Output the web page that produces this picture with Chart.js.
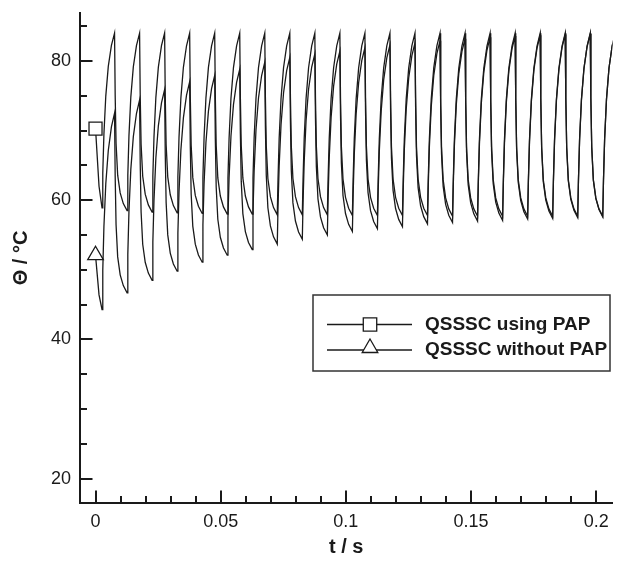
<!DOCTYPE html>
<html>
<head>
<meta charset="utf-8">
<title>QSSSC - temperatura</title>
<script src="https://cdn.jsdelivr.net/npm/chart.js@4.4.0/dist/chart.umd.min.js"></script>
<style>
  html, body { margin: 0; padding: 0; background: #fff; }
  #wrap { width: 623px; height: 564px; }
</style>
</head>
<body>
<div id="wrap"><canvas id="tempChart" width="623" height="564"></canvas></div>
<script>
// Datos (t en s, temperatura en °C)
const seriesNames = ['QSSSC using PAP', 'QSSSC without PAP'];

const startTimes = [0, 0.0014];
const minTimes = [0.0026, 0.0126, 0.0226, 0.0326, 0.0426, 0.0526, 0.0626, 0.0726, 0.0826, 0.0926, 0.1026,
                  0.1126, 0.1226, 0.1326, 0.1426, 0.1526, 0.1626, 0.1726, 0.1826, 0.1926, 0.2026];
const peakTimes = [0.0076, 0.0176, 0.0276, 0.0376, 0.0476, 0.0576, 0.0676, 0.0776, 0.0876, 0.0976, 0.1076,
                   0.1176, 0.1276, 0.1376, 0.1476, 0.1576, 0.1676, 0.1776, 0.1876, 0.1976, 0.2076];

const papStart = [70.3, 62.0];
const papMin = [58.9, 58.5, 58.3, 58.2, 58.1, 58.0, 58.0, 57.9, 57.9, 57.9, 57.8,
                57.8, 57.8, 57.8, 57.7, 57.7, 57.7, 57.7, 57.7, 57.7, 57.7];
const papPeak = [84.0, 84.0, 84.0, 84.0, 84.0, 84.0, 84.0, 84.0, 84.0, 84.0, 84.0,
                 84.0, 84.0, 84.0, 84.0, 84.0, 84.0, 84.0, 84.0, 84.0, 84.0];

const noPapStart = [52.1, 46.4];
const noPapMin = [44.3, 46.7, 48.5, 49.8, 51.1, 52.1, 52.9, 53.7, 54.4, 55.0, 55.5,
                  55.9, 56.2, 56.6, 56.8, 57.0, 57.1, 57.3, 57.4, 57.5, 57.6];
const noPapPeak = [72.5, 74.4, 75.9, 77.0, 77.9, 78.8, 79.8, 80.5, 81.0, 81.4, 81.9,
                   82.3, 82.6, 82.9, 83.2, 83.4, 83.6, 83.7, 83.8, 83.9, 84.0];

const riseTime = [0, 0.06, 0.15, 0.3, 0.5, 0.75, 1];
const riseLevel = [0, 0.2, 0.42, 0.64, 0.81, 0.93, 1];
const fallTime = [0, 0.05, 0.12, 0.25, 0.45, 0.7, 1];
const fallLevel = [0, 0.35, 0.62, 0.8, 0.9, 0.96, 1];

// Ejes
const xTicks = [0, 0.05, 0.1, 0.15, 0.2];
const xTickLabels = ['0', '0.05', '0.1', '0.15', '0.2'];
const yTicks = [20, 40, 60, 80];
const yTickLabels = ['20', '40', '60', '80'];

const FONT = '"Liberation Sans", Arial, Helvetica, sans-serif';
const INK = '#1a1a1a';

// arma la lista de puntos {x, y} a partir de los extremos de cada ciclo
function buildSeries(start, mins, peaks) {
    const pts = startTimes.map((t, i) => ({ x: t, y: start[i] }));
    for (let k = 0; k < mins.length; k++) {
        const t0 = minTimes[k];
        const t1 = peakTimes[k];
        for (let j = 0; j < riseTime.length; j++) {
            pts.push({ x: t0 + (t1 - t0) * riseTime[j], y: mins[k] + (peaks[k] - mins[k]) * riseLevel[j] });
        }
        if (k + 1 < mins.length) {
            const t2 = minTimes[k + 1];
            for (let j = 1; j < fallTime.length - 1; j++) {
                pts.push({ x: t1 + (t2 - t1) * fallTime[j], y: peaks[k] - (peaks[k] - mins[k + 1]) * fallLevel[j] });
            }
        }
    }
    return pts;
}

// ticks hacia adentro + leyenda con recuadro
const ejesPlugin = {
    id: 'ejes',
    afterDraw(chart) {
        const ctx = chart.ctx;
        const area = chart.chartArea;
        const sx = chart.scales.x;
        const sy = chart.scales.y;
        ctx.save();
        ctx.strokeStyle = INK;
        ctx.lineWidth = 2;
        ctx.beginPath();
        for (let i = 0; i <= 20; i++) {
            const v = i / 100;
            const px = Math.round(sx.getPixelForValue(v));
            const len = (i % 5 === 0) ? 12.5 : 7;
            ctx.moveTo(px, area.bottom);
            ctx.lineTo(px, area.bottom - len);
        }
        for (let v = 20; v <= 85; v += 5) {
            const py = Math.round(sy.getPixelForValue(v));
            const len = (v % 20 === 0) ? 12.5 : 7;
            ctx.moveTo(area.left, py);
            ctx.lineTo(area.left + len, py);
        }
        ctx.stroke();

        // leyenda
        const bx = 313, by = 295, bw = 297, bh = 76;
        ctx.fillStyle = '#fff';
        ctx.fillRect(bx, by, bw, bh);
        ctx.lineWidth = 1.5;
        ctx.strokeStyle = '#333';
        ctx.strokeRect(bx, by, bw, bh);

        const rows = [324.5, 350];
        chart.data.datasets.forEach((ds, i) => {
            const y = rows[i];
            ctx.strokeStyle = INK;
            ctx.lineWidth = 1.3;
            ctx.beginPath();
            ctx.moveTo(327, y);
            ctx.lineTo(412, y);
            ctx.stroke();
            ctx.fillStyle = '#fff';
            Chart.helpers.drawPoint(ctx, {
                pointStyle: ds.pointStyle,
                radius: ds.legendRadius,
                rotation: 0,
                borderWidth: 1.3
            }, 370, i === 1 ? y - 2 : y);
            ctx.fillStyle = INK;
            ctx.font = 'bold 19px ' + FONT;
            ctx.textBaseline = 'middle';
            ctx.textAlign = 'left';
            ctx.fillText(ds.label, 425, y);
        });
        ctx.restore();
    }
};

document.addEventListener('DOMContentLoaded', function() {
    const canvas = document.getElementById('tempChart');
    if (!canvas) {
        console.error('No se encontró tempChart');
        return;
    }

    new Chart(canvas, {
        type: 'line',
        data: {
            datasets: [
                {
                    label: seriesNames[0],
                    data: buildSeries(papStart, papMin, papPeak),
                    borderColor: INK,
                    borderWidth: 1.3,
                    pointStyle: 'rect',
                    legendRadius: 9.5,
                    pointRadius: ctx => ctx.dataIndex === 0 ? 9.2 : 0,
                    pointBackgroundColor: '#fff',
                    pointBorderColor: INK,
                    pointBorderWidth: 1.3,
                    tension: 0,
                    fill: false
                },
                {
                    label: seriesNames[1],
                    data: buildSeries(noPapStart, noPapMin, noPapPeak),
                    borderColor: INK,
                    borderWidth: 1.3,
                    pointStyle: 'triangle',
                    legendRadius: 9,
                    pointRadius: ctx => ctx.dataIndex === 0 ? 9 : 0,
                    pointBackgroundColor: '#fff',
                    pointBorderColor: INK,
                    pointBorderWidth: 1.3,
                    tension: 0,
                    fill: false
                }
            ]
        },
        options: {
            responsive: false,
            animation: false,
            layout: { padding: { top: 13, right: 7, left: 0, bottom: 0 } },
            plugins: {
                legend: { display: false },
                tooltip: { enabled: false }
            },
            scales: {
                x: {
                    type: 'linear',
                    min: -0.0062,
                    max: 0.2065,
                    afterBuildTicks: s => { s.ticks = xTicks.map(v => ({ value: v })); },
                    afterFit: s => {
                        s.height = 61;
                        s.paddingLeft = 0;
                        s.paddingRight = 0;
                    },
                    ticks: {
                        callback: (v, i) => xTickLabels[i],
                        font: { size: 18, family: FONT },
                        color: INK,
                        padding: 8,
                        maxRotation: 0,
                        autoSkip: false
                    },
                    grid: { display: false, drawTicks: false },
                    border: { display: true, color: INK, width: 2 },
                    title: {
                        display: true,
                        text: 't / s',
                        color: INK,
                        font: { size: 20, weight: 'bold', family: FONT },
                        padding: { top: 5, bottom: 5 }
                    }
                },
                y: {
                    min: 16.5,
                    max: 86.9,
                    afterBuildTicks: s => { s.ticks = yTicks.map(v => ({ value: v })); },
                    afterFit: s => {
                        s.width = 80;
                        s.paddingTop = 0;
                        s.paddingBottom = 0;
                    },
                    ticks: {
                        callback: (v, i) => yTickLabels[i],
                        font: { size: 18, family: FONT },
                        color: INK,
                        padding: 9
                    },
                    grid: { display: false, drawTicks: false },
                    border: { display: true, color: INK, width: 2 },
                    title: {
                        display: true,
                        text: 'Θ / °C',
                        color: INK,
                        font: { size: 20, weight: 'bold', family: FONT },
                        padding: { top: 9, bottom: 9 }
                    }
                }
            }
        },
        plugins: [ejesPlugin]
    });
    console.log('Gráfico tempChart inicializado');
});
</script>
</body>
</html>
